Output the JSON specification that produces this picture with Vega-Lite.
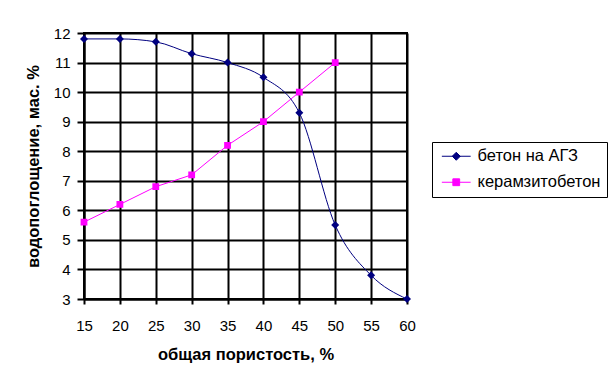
{
  "$schema": "https://vega.github.io/schema/vega-lite/v6.json",
  "width": 323,
  "height": 266,
  "autosize": {"type": "none"},
  "padding": {"left": 84, "top": 33, "right": 208, "bottom": 89},
  "background": "white",
  "data": {
    "values": [
      {"x": 15, "y": 11.8, "series": "бетон на АГЗ"},
      {"x": 20, "y": 11.8, "series": "бетон на АГЗ"},
      {"x": 25, "y": 11.7, "series": "бетон на АГЗ"},
      {"x": 30, "y": 11.3, "series": "бетон на АГЗ"},
      {"x": 35, "y": 11.0, "series": "бетон на АГЗ"},
      {"x": 40, "y": 10.5, "series": "бетон на АГЗ"},
      {"x": 45, "y": 9.3, "series": "бетон на АГЗ"},
      {"x": 50, "y": 5.5, "series": "бетон на АГЗ"},
      {"x": 55, "y": 3.8, "series": "бетон на АГЗ"},
      {"x": 60, "y": 3.0, "series": "бетон на АГЗ"},
      {"x": 15, "y": 5.6, "series": "керамзитобетон"},
      {"x": 20, "y": 6.2, "series": "керамзитобетон"},
      {"x": 25, "y": 6.8, "series": "керамзитобетон"},
      {"x": 30, "y": 7.2, "series": "керамзитобетон"},
      {"x": 35, "y": 8.2, "series": "керамзитобетон"},
      {"x": 40, "y": 9.0, "series": "керамзитобетон"},
      {"x": 45, "y": 10.0, "series": "керамзитобетон"},
      {"x": 50, "y": 11.0, "series": "керамзитобетон"}
    ]
  },
  "encoding": {
    "x": {
      "field": "x", "type": "quantitative",
      "scale": {"domain": [15, 60], "nice": false, "zero": false},
      "axis": {"values": [15, 20, 25, 30, 35, 40, 45, 50, 55, 60], "title": "общая пористость, %", "titlePadding": 13, "labelFlush": false, "tickSize": 5, "labelPadding": 14}
    },
    "y": {
      "field": "y", "type": "quantitative",
      "scale": {"domain": [3, 12], "nice": false, "zero": false},
      "axis": {"values": [3, 4, 5, 6, 7, 8, 9, 10, 11, 12], "title": "водопоглощение, мас. %", "titlePadding": 12, "labelFlush": false, "tickSize": 7, "labelPadding": 7}
    },
    "color": {
      "field": "series", "type": "nominal",
      "scale": {"domain": ["бетон на АГЗ", "керамзитобетон"], "range": ["#000080", "#FF00FF"]},
      "legend": {
        "orient": "none", "legendX": 348, "legendY": 109, "title": null,
        "strokeColor": "black", "fillColor": "white", "padding": 6,
        "symbolOffset": 10, "labelOffset": 13, "rowPadding": 9,
        "labelFontSize": 16.5, "labelFont": "Liberation Sans", "labelColor": "black",
        "symbolSize": 64, "symbolStrokeWidth": 1,
        "encode": {"symbols": {"update": {"stroke": {"scale": "color", "field": "value"}, "strokeWidth": {"value": 1}}}}
      }
    }
  },
  "layer": [
    {
      "transform": [{"filter": "datum.series === 'бетон на АГЗ'"}],
      "mark": {"type": "line", "interpolate": "monotone", "strokeWidth": 1}
    },
    {
      "transform": [{"filter": "datum.series === 'керамзитобетон'"}],
      "mark": {"type": "line", "strokeWidth": 1}
    },
    {
      "mark": {"type": "point", "filled": true, "size": 64, "opacity": 1, "strokeWidth": 0},
      "encoding": {
        "shape": {
          "field": "series", "type": "nominal",
          "scale": {"domain": ["бетон на АГЗ", "керамзитобетон"], "range": ["M-3.6,0H3.6M0,-1L1,0L0,1L-1,0Z", "M-3.6,0H3.6M-0.85,-0.85H0.85V0.85H-0.85Z"]},
          "legend": {
            "orient": "none", "legendX": 348, "legendY": 109, "title": null,
            "strokeColor": "black", "fillColor": "white", "padding": 6,
            "symbolOffset": 10, "labelOffset": 13, "rowPadding": 9,
            "labelFontSize": 16.5, "labelFont": "Liberation Sans", "labelColor": "black",
            "symbolSize": 64, "symbolStrokeWidth": 1,
            "encode": {"symbols": {"update": {"stroke": {"scale": "color", "field": "value"}, "strokeWidth": {"value": 1}}}}
          }
        }
      }
    }
  ],
  "config": {
    "view": {"stroke": "black", "strokeWidth": 2},
    "font": "Liberation Sans",
    "axis": {
      "grid": true, "gridColor": "black", "gridWidth": 2, "gridOpacity": 1,
      "domainColor": "black", "domainWidth": 2,
      "tickColor": "black", "tickWidth": 2,
      "labelFontSize": 15, "labelColor": "black", "labelFont": "Liberation Sans",
      "titleFontSize": 16.5, "titleFont": "Liberation Sans", "titleFontWeight": "bold", "titleColor": "black"
    }
  }
}
